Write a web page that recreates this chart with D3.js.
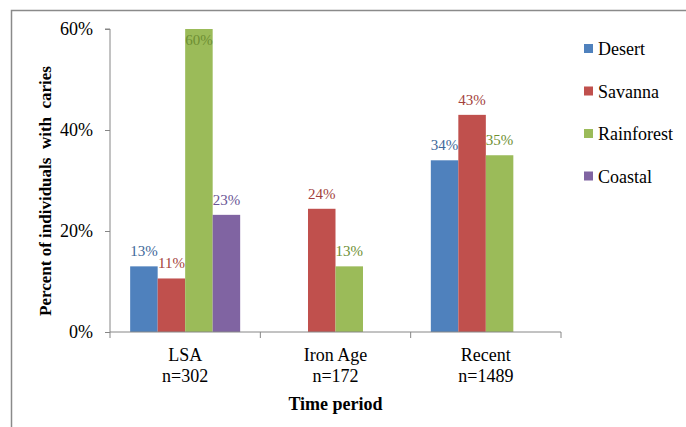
<!DOCTYPE html>
<html>
<head>
<meta charset="utf-8">
<script src="https://cdn.jsdelivr.net/npm/d3@7"></script>
<style>
  html, body { margin: 0; padding: 0; background: #fff; }
  svg { display: block; font-family: "Liberation Serif", "Times New Roman", serif; }
</style>
</head>
<body>
<svg id="chart" width="686" height="427"></svg>
<script>
// ---- data ----
const categories = ["LSA", "Iron Age", "Recent"];
const sampleSizes = ["n=302", "n=172", "n=1489"];
const seriesNames = ["Desert", "Savanna", "Rainforest", "Coastal"];
const desert = [13.0, null, 34.0];
const savanna = [10.6, 24.4, 43.0];
const rainforest = [60.0, 13.0, 35.0];
const coastal = [23.2, null, null];
const dataLabels = [
  ["13%", null, "34%"],
  ["11%", "24%", "43%"],
  ["60%", "13%", "35%"],
  ["23%", null, null]
];
const yTicks = [0, 20, 40, 60];
const yTitle = "Percent of individuals  with  caries";
const xTitle = "Time period";

const seriesValues = [desert, savanna, rainforest, coastal];
const colors = ["#4F81BD", "#C0504D", "#9BBB59", "#8064A2"];
const labelColors = ["#41689A", "#A33F3C", "#6E8F33", "#6A5595"];

const svg = d3.select("#chart");

// chart border (cut off at right/bottom)
svg.append("path")
  .attr("d", "M11.5,427 L11.5,10.5 L686,10.5")
  .attr("fill", "none").attr("stroke", "#8a8a8a").attr("stroke-width", 1.5);

const x = d3.scaleBand().domain(categories).range([110, 561]).paddingInner(0).paddingOuter(0);
const xs = d3.scaleBand().domain(seriesNames).range([0, x.bandwidth()]).paddingInner(0).paddingOuter(0.733);
const y = d3.scaleLinear().domain([0, 60]).range([332, 29]);

// bars
seriesNames.forEach((s, si) => {
  const g = svg.append("g");
  const vals = categories.map((c, ci) => ({c, ci, v: seriesValues[si][ci]})).filter(d => d.v != null);
  g.selectAll("rect").data(vals).join("rect")
    .attr("x", d => x(d.c) + xs(s))
    .attr("width", xs.bandwidth())
    .attr("y", d => y(d.v))
    .attr("height", d => y(0) - y(d.v))
    .attr("fill", colors[si]);
  g.selectAll("text").data(vals).join("text")
    .attr("x", d => x(d.c) + xs(s) + xs.bandwidth() / 2)
    .attr("y", d => Math.max(y(d.v) - 10, y(60) + 16))
    .attr("text-anchor", "middle")
    .attr("font-size", 15)
    .attr("fill", labelColors[si])
    .text(d => dataLabels[si][d.ci]);
});

// y axis
const yAxis = svg.append("g").attr("transform", "translate(110,0)")
  .call(d3.axisLeft(y).tickValues(yTicks).tickSize(5).tickPadding(12).tickFormat(d => d + "%"));
yAxis.select(".domain").attr("stroke", "#868686").attr("d", "M-5,29H0V332");
yAxis.selectAll(".tick line").attr("stroke", "#868686");
yAxis.selectAll(".tick text").attr("font-size", 18).attr("font-family", "Liberation Serif").attr("fill", "#000");

// x axis
const xAxisG = svg.append("g").attr("transform", "translate(0,332)");
xAxisG.append("line").attr("x1", 110).attr("x2", 561).attr("y1", 0).attr("y2", 0).attr("stroke", "#868686");
const bounds = categories.map(c => x(c)).concat([x(categories[categories.length - 1]) + x.bandwidth()]);
xAxisG.selectAll("line.tk").data(bounds).join("line").attr("class", "tk")
  .attr("x1", d => d).attr("x2", d => d).attr("y1", 0).attr("y2", 6).attr("stroke", "#868686");
const xl = xAxisG.selectAll("text.cat").data(categories).join("text").attr("class", "cat")
  .attr("text-anchor", "middle").attr("font-size", 18).attr("fill", "#000");
xl.append("tspan").attr("x", d => x(d) + x.bandwidth() / 2).attr("y", 29).text(d => d);
xl.append("tspan").attr("x", d => x(d) + x.bandwidth() / 2).attr("y", 50).text((d, i) => sampleSizes[i]);

// axis titles
svg.append("text")
  .attr("x", x.range()[0] + (x.range()[1] - x.range()[0]) / 2).attr("y", 410)
  .attr("text-anchor", "middle").attr("font-size", 18).attr("font-weight", "bold")
  .text(xTitle);
svg.append("text")
  .attr("transform", "translate(51,191) rotate(-90)")
  .attr("text-anchor", "middle").attr("font-size", 17).attr("font-weight", "bold")
  .style("white-space", "pre")
  .text(yTitle);

// legend
const legend = svg.append("g");
seriesNames.forEach((s, i) => {
  const by = 55 + i * 42.5;
  legend.append("rect").attr("x", 584).attr("y", by - 11).attr("width", 9).attr("height", 9).attr("fill", colors[i]);
  legend.append("text").attr("x", 598).attr("y", by).attr("font-size", 18).attr("fill", "#000").text(s);
});
</script>
</body>
</html>
